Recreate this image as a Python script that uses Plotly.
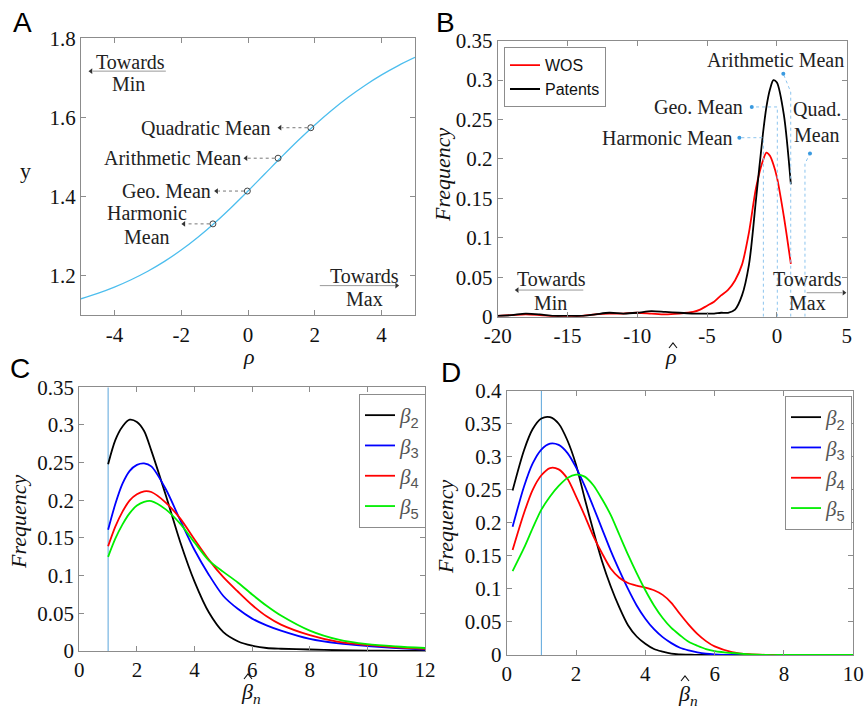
import plotly.graph_objects as go

# ---------------- data ----------------
# Panel A: y versus rho
rho_a = [-5.0, -4.5, -4.0, -3.5, -3.0, -2.5, -2.0, -1.5, -1.0, -0.5, 0.0,
         0.5, 1.0, 1.5, 2.0, 2.5, 3.0, 3.5, 4.0, 4.5, 5.0]
y_a = [1.1417, 1.1554, 1.1713, 1.1899, 1.2114, 1.2363, 1.2649, 1.2973, 1.3333,
       1.3726, 1.4142, 1.4571, 1.5000, 1.5417, 1.5811, 1.6177, 1.6510, 1.6809,
       1.7075, 1.7311, 1.7518]
mean_rho_a = [-1.05, -0.02, 0.90, 1.88]
mean_y_a = [1.331, 1.414, 1.497, 1.574]
xtick_a = [-4, -2, 0, 2, 4]
xtick_a_text = ["-4", "-2", "0", "2", "4"]
ytick_a = [1.2, 1.4, 1.6, 1.8]
ytick_a_text = ["1.2", "1.4", "1.6", "1.8"]

# Panel B: distribution of rho-hat
rho_b = [-20, -19, -18, -17, -16, -15, -14, -13, -12, -11, -10, -9, -8, -7, -6,
         -5.5, -5, -4.5, -4, -3.5, -3, -2.5, -2, -1.5, -1, -0.75, -0.5, -0.25,
         0, 0.5, 1]
wos_b = [0.001, 0.002, 0.003, 0.002, 0.0005, 0.0, 0.001, 0.003, 0.004, 0.004,
         0.005, 0.004, 0.003, 0.004, 0.006, 0.009, 0.014, 0.019, 0.027, 0.034,
         0.046, 0.066, 0.107, 0.163, 0.198, 0.208, 0.204, 0.193, 0.177, 0.127,
         0.067]
patents_b = [0.001, 0.002, 0.004, 0.003, 0.001, 0.001, 0.001, 0.003, 0.005,
             0.004, 0.005, 0.007, 0.006, 0.005, 0.004, 0.004, 0.004, 0.004,
             0.005, 0.005, 0.009, 0.027, 0.066, 0.148, 0.232, 0.266, 0.288,
             0.300, 0.297, 0.256, 0.168]
mean_rho_b = [-0.97, 0.03, 0.99, 2.01]   # harmonic, geo, arithmetic, quadratic
xtick_b = [-20, -15, -10, -5, 0, 5]
xtick_b_text = ["-20", "-15", "-10", "-5", "0", "5"]
ytick_b = [0, 0.05, 0.1, 0.15, 0.2, 0.25, 0.3, 0.35]
ytick_b_text = ["0", "0.05", "0.1", "0.15", "0.2", "0.25", "0.3", "0.35"]

# Panel C
beta_c = [1, 1.25, 1.5, 1.75, 2, 2.25, 2.5, 3, 3.5, 4, 4.5, 5, 5.5, 6, 6.5, 7,
          8, 9, 10, 11, 12]
b2_c = [0.248, 0.280, 0.298, 0.307, 0.304, 0.292, 0.266, 0.207, 0.145, 0.092,
        0.051, 0.025, 0.013, 0.007, 0.004, 0.003, 0.002, 0.001, 0.0005, 0.0002,
        0.0]
b3_c = [0.161, 0.195, 0.222, 0.239, 0.247, 0.249, 0.245, 0.215, 0.174, 0.134,
        0.101, 0.073, 0.056, 0.043, 0.034, 0.027, 0.016, 0.010, 0.0066, 0.004,
        0.002]
b4_c = [0.139, 0.165, 0.185, 0.200, 0.208, 0.212, 0.211, 0.197, 0.176, 0.148,
        0.121, 0.098, 0.079, 0.061, 0.046, 0.035, 0.021, 0.012, 0.008, 0.005,
        0.003]
b5_c = [0.125, 0.149, 0.168, 0.183, 0.193, 0.198, 0.199, 0.188, 0.169, 0.144,
        0.120, 0.105, 0.091, 0.075, 0.060, 0.047, 0.027, 0.015, 0.009, 0.006,
        0.004]
xtick_c = [0, 2, 4, 6, 8, 10, 12]
xtick_c_text = ["0", "2", "4", "6", "8", "10", "12"]
ytick_c = ytick_b
ytick_c_text = ytick_b_text

# Panel D
beta_d = [0.17, 0.5, 0.75, 1, 1.25, 1.5, 1.75, 2, 2.25, 2.5, 2.75, 3, 3.25, 3.5,
          3.75, 4, 4.25, 4.5, 4.75, 5, 5.25, 5.5, 5.75, 6, 6.5, 7, 7.5, 8, 9, 10]
b2_d = [0.249, 0.310, 0.342, 0.358, 0.360, 0.350, 0.325, 0.288, 0.237, 0.188,
        0.142, 0.104, 0.072, 0.045, 0.028, 0.017, 0.009, 0.005, 0.002, 0.001,
        0.0005, 0, 0, 0, 0, 0, 0, 0, 0, 0]
b3_d = [0.194, 0.255, 0.290, 0.311, 0.320, 0.318, 0.306, 0.284, 0.256, 0.224,
        0.191, 0.158, 0.128, 0.100, 0.075, 0.055, 0.039, 0.027, 0.018, 0.011,
        0.007, 0.004, 0.002, 0.001, 0, 0, 0, 0, 0, 0]
b4_d = [0.159, 0.215, 0.250, 0.272, 0.283, 0.281, 0.267, 0.240, 0.211, 0.180,
        0.154, 0.131, 0.117, 0.109, 0.105, 0.102, 0.098, 0.091, 0.079, 0.062,
        0.046, 0.032, 0.021, 0.013, 0.0045, 0.0012, 0.0002, 0, 0, 0]
b5_d = [0.127, 0.162, 0.192, 0.220, 0.240, 0.256, 0.268, 0.273, 0.270, 0.257,
        0.236, 0.212, 0.182, 0.152, 0.124, 0.098, 0.075, 0.056, 0.041, 0.030,
        0.020, 0.014, 0.009, 0.006, 0.003, 0.001, 0, 0, 0, 0]
xtick_d = [0, 2, 4, 6, 8, 10]
xtick_d_text = ["0", "2", "4", "6", "8", "10"]
ytick_d = [0, 0.05, 0.1, 0.15, 0.2, 0.25, 0.3, 0.35, 0.4]
ytick_d_text = ["0", "0.05", "0.1", "0.15", "0.2", "0.25", "0.3", "0.35", "0.4"]

beta_subs = ["2", "3", "4", "5"]

# ---------------- style ----------------
SERIF = "Liberation Serif"
SANS = "Liberation Sans"
GRAY = "#8c8c8c"
LIGHTBLUE = "#4DBEEE"
LINEBLUE = "#5aa5dc"
BETA_COLORS = ["#000000", "#0000ff", "#ff0000", "#00ee00"]
beta_names = ['<span style="font-family:Liberation Serif"><i>β</i></span><sub>%s</sub>' % s
              for s in beta_subs]

fig = go.Figure()

# ---- Panel A ----
fig.add_trace(go.Scatter(x=rho_a, y=y_a, mode="lines", xaxis="x", yaxis="y",
                         line=dict(color=LIGHTBLUE, width=1.3, shape="spline"),
                         showlegend=False, hoverinfo="skip"))
fig.add_trace(go.Scatter(x=mean_rho_a, y=mean_y_a, mode="markers", xaxis="x", yaxis="y",
                         marker=dict(symbol="circle-open", size=6, color="#444",
                                     line=dict(width=1)),
                         showlegend=False, hoverinfo="skip"))

# ---- Panel B ----
fig.add_trace(go.Scatter(x=rho_b, y=wos_b, mode="lines", xaxis="x2", yaxis="y2",
                         name="WOS", legend="legend",
                         line=dict(color="#ff0000", width=1.8, shape="spline", smoothing=0.8)))
fig.add_trace(go.Scatter(x=rho_b, y=patents_b, mode="lines", xaxis="x2", yaxis="y2",
                         name="Patents", legend="legend",
                         line=dict(color="#000000", width=1.8, shape="spline", smoothing=0.8)))

# blue dotted leaders in B (vertical line at each mean, then bend to label)
b_tops = [0.227, 0.266, 0.285, 0.194]
b_heads = [(-2.69, 0.227), (-1.8, 0.266), (0.46, 0.308), (2.37, 0.207)]
for xm, top, (hx, hy) in zip(mean_rho_b, b_tops, b_heads):
    fig.add_trace(go.Scatter(x=[xm, xm, hx], y=[0, top, hy], mode="lines",
                             xaxis="x2", yaxis="y2", showlegend=False, hoverinfo="skip",
                             line=dict(color="#8cc4ee", width=1, dash="dot")))
    fig.add_trace(go.Scatter(x=[hx], y=[hy], mode="markers", xaxis="x2", yaxis="y2",
                             showlegend=False, hoverinfo="skip",
                             marker=dict(size=4, color="#3a9ae0")))

# ---- Panel C ----
fig.add_trace(go.Scatter(x=[1, 1], y=[0, 0.35], mode="lines", xaxis="x3", yaxis="y3",
                         line=dict(color=LINEBLUE, width=1), showlegend=False,
                         hoverinfo="skip"))
for name, ys, col in zip(beta_names, [b2_c, b3_c, b4_c, b5_c], BETA_COLORS):
    fig.add_trace(go.Scatter(x=beta_c, y=ys, mode="lines", xaxis="x3", yaxis="y3",
                             name=name, legend="legend2",
                             line=dict(color=col, width=1.8, shape="spline", smoothing=0.8)))

# ---- Panel D ----
fig.add_trace(go.Scatter(x=[1, 1], y=[0, 0.4], mode="lines", xaxis="x4", yaxis="y4",
                         line=dict(color=LINEBLUE, width=1), showlegend=False,
                         hoverinfo="skip"))
for name, ys, col in zip(beta_names, [b2_d, b3_d, b4_d, b5_d], BETA_COLORS):
    fig.add_trace(go.Scatter(x=beta_d, y=ys, mode="lines", xaxis="x4", yaxis="y4",
                             name=name, legend="legend3",
                             line=dict(color=col, width=1.8, shape="spline", smoothing=0.8)))


def axis(domain, rng, tickvals, ticktext, anchor):
    return dict(domain=domain, range=rng, tickmode="array", tickvals=tickvals,
                ticktext=ticktext, anchor=anchor, showline=True, mirror="ticks",
                linecolor=GRAY, linewidth=1, ticks="inside", ticklen=5,
                tickwidth=1, tickcolor=GRAY, showgrid=False, zeroline=False,
                tickfont=dict(family=SERIF, size=21, color="#111"),
                automargin=False, fixedrange=True)


W, H = 866, 711


def px_x(p):
    return p / W


def px_y(p):
    return 1 - p / H


fig.update_layout(template="none")
fig.update_layout(
    width=W, height=H, margin=dict(l=0, r=0, t=0, b=0),
    paper_bgcolor="white", plot_bgcolor="white",
    font=dict(family=SERIF, size=21, color="#111"),
    xaxis=axis([px_x(81), px_x(415)], [-5, 5], xtick_a, xtick_a_text, "y"),
    yaxis=axis([px_y(315.3), px_y(38.3)], [1.1, 1.8], ytick_a, ytick_a_text, "x"),
    xaxis2=axis([px_x(497.7), px_x(846.7)], [-20, 5], xtick_b, xtick_b_text, "y2"),
    yaxis2=axis([px_y(316.7), px_y(40.7)], [0, 0.35], ytick_b, ytick_b_text, "x2"),
    xaxis3=axis([px_x(79.3), px_x(425)], [0, 12], xtick_c, xtick_c_text, "y3"),
    yaxis3=axis([px_y(651), px_y(387.3)], [0, 0.35], ytick_c, ytick_c_text, "x3"),
    xaxis4=axis([px_x(506.7), px_x(853.3)], [0, 10], xtick_d, xtick_d_text, "y4"),
    yaxis4=axis([px_y(655), px_y(390.7)], [0, 0.4], ytick_d, ytick_d_text, "x4"),
    legend=dict(x=px_x(504), y=px_y(47.3), xanchor="left", yanchor="top",
                bgcolor="white", bordercolor=GRAY, borderwidth=1,
                font=dict(family=SANS, size=16, color="#111"), itemwidth=30),
    legend2=dict(x=px_x(359), y=px_y(394), xanchor="left", yanchor="top",
                 bgcolor="white", bordercolor=GRAY, borderwidth=1,
                 font=dict(family=SANS, size=21, color="#555"), itemwidth=30),
    legend3=dict(x=px_x(785), y=px_y(396), xanchor="left", yanchor="top",
                 bgcolor="white", bordercolor=GRAY, borderwidth=1,
                 font=dict(family=SANS, size=21, color="#555"), itemwidth=30),
    showlegend=True,
)

ann = []
shapes = []
heads = {}   # axis pair -> list of (x, y, symbol)


def text(s, x, y, xref, yref, size=20, xanchor="center", family=SERIF, color="#222",
         textangle=0):
    ann.append(dict(text=s, x=x, y=y, xref=xref, yref=yref, showarrow=False,
                    xanchor=xanchor, yanchor="middle", textangle=textangle,
                    font=dict(family=family, size=size, color=color)))


def head(xh, yh, direction, xa, ya):
    heads.setdefault((xa, ya), []).append(
        (xh, yh, "triangle-left" if direction == "left" else "triangle-right"))


def seg(x0, x1, y, xref, yref, color, dash="solid"):
    shapes.append(dict(type="line", x0=x0, x1=x1, y0=y, y1=y, xref=xref, yref=yref,
                       line=dict(color=color, width=1, dash=dash)))


def hat(cx, cy):
    # small circumflex drawn as a path, in pixel position of the figure
    p = "M %f,%f L %f,%f L %f,%f" % (px_x(cx - 4), px_y(cy + 3), px_x(cx), px_y(cy - 2),
                                    px_x(cx + 4), px_y(cy + 3))
    shapes.append(dict(type="path", path=p, xref="paper", yref="paper",
                       line=dict(color="#111", width=1.1)))


# Panel letters
text("A", px_x(22), px_y(23), "paper", "paper", size=28, family=SANS, color="#000")
text("B", px_x(446), px_y(23), "paper", "paper", size=28, family=SANS, color="#000")
text("C", px_x(20), px_y(368), "paper", "paper", size=28, family=SANS, color="#000")
text("D", px_x(451), px_y(372), "paper", "paper", size=28, family=SANS, color="#000")

# Axis titles (hats drawn as small shapes above the letters)
text("y", px_x(25), px_y(170), "paper", "paper", size=22, color="#111")
text("<i>ρ</i>", px_x(249), px_y(356), "paper", "paper", size=22, color="#111")
text("<i>ρ</i>", px_x(671), px_y(356), "paper", "paper", size=22, color="#111")
hat(673, 345)
text("<i>Frequency</i>", px_x(443), px_y(175), "paper", "paper", size=22,
     color="#111", textangle=-90)
text("<i>Frequency</i>", px_x(18), px_y(522), "paper", "paper", size=22,
     color="#111", textangle=-90)
text("<i>Frequency</i>", px_x(445), px_y(527), "paper", "paper", size=22,
     color="#111", textangle=-90)
text("<i>β</i><sub><i>n</i></sub>", px_x(251), px_y(693), "paper", "paper", size=22,
     color="#111")
hat(248, 676)
text("<i>β</i><sub><i>n</i></sub>", px_x(688), px_y(695), "paper", "paper", size=22,
     color="#111")
hat(685, 678)

# Panel A annotations
text("Towards", -3.53, 1.741, "x", "y")
text("Min", -3.59, 1.685, "x", "y")
seg(-2.46, -4.65, 1.717, "x", "y", "#999")
head(-4.7, 1.717, "left", "x", "y")
text("Towards", 3.50, 1.199, "x", "y")
text("Max", 3.50, 1.140, "x", "y")
seg(2.15, 4.4, 1.175, "x", "y", "#999")
head(4.45, 1.175, "right", "x", "y")
a_heads = [-1.92, -0.94, -0.06, 0.96]
for xm, ym, xh in zip(mean_rho_a, mean_y_a, a_heads):
    seg(xm - 0.1, xh + 0.05, ym, "x", "y", "#777", dash="dot")
    head(xh, ym, "left", "x", "y")
text("Quadratic Mean", 0.71, 1.574, "x", "y", xanchor="right")
text("Arithmetic Mean", -0.16, 1.497, "x", "y", xanchor="right")
text("Geo. Mean", -1.04, 1.414, "x", "y", xanchor="right")
text("Harmonic", -3.01, 1.358, "x", "y")
text("Mean", -3.01, 1.297, "x", "y")

# Panel B annotations
text("Arithmetic Mean", -0.08, 0.325, "x2", "y2")
text("Geo. Mean", -2.29, 0.266, "x2", "y2", xanchor="right")
text("Harmonic Mean", -3.0, 0.227, "x2", "y2", xanchor="right")
text("Quad.", 2.89, 0.263, "x2", "y2")
text("Mean", 2.87, 0.231, "x2", "y2")
text("Towards", -16.15, 0.0474, "x2", "y2")
text("Min", -16.2, 0.0178, "x2", "y2")
seg(-13.87, -18.5, 0.0338, "x2", "y2", "#999")
head(-18.6, 0.0338, "left", "x2", "y2")
text("Towards", 2.19, 0.0474, "x2", "y2")
text("Max", 2.18, 0.017, "x2", "y2")
seg(2.13, 4.7, 0.0304, "x2", "y2", "#999")
head(4.8, 0.0304, "right", "x2", "y2")

for (xa, ya), pts in heads.items():
    fig.add_trace(go.Scatter(x=[p[0] for p in pts], y=[p[1] for p in pts],
                             mode="markers", xaxis=xa, yaxis=ya, showlegend=False,
                             hoverinfo="skip",
                             marker=dict(symbol=[p[2] for p in pts], size=5,
                                         color="#333", line=dict(width=0))))

fig.update_layout(annotations=ann, shapes=shapes)

fig.write_html("out.html", include_plotlyjs=True, full_html=True,
               config={"displayModeBar": False},
               post_script="document.body.style.margin='0';")
